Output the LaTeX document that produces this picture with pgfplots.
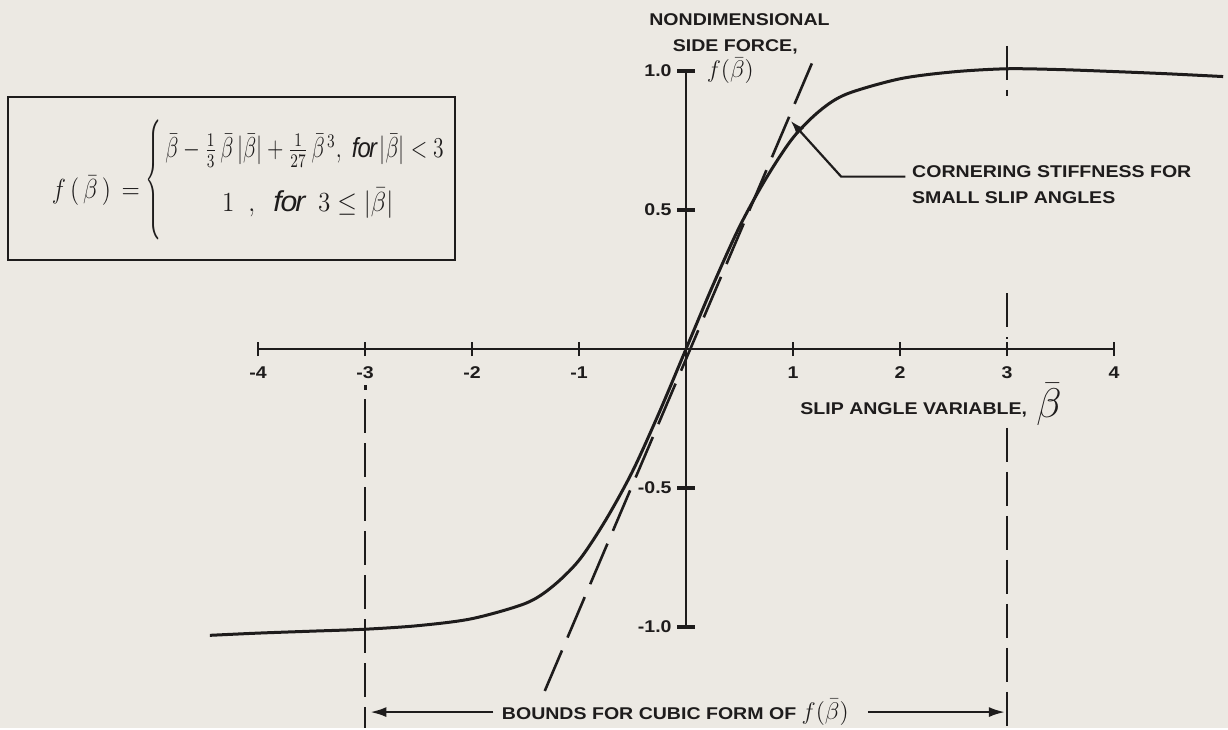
\documentclass[border=0pt]{standalone}
\usepackage{pgfplots}
\pgfplotsset{compat=1.18}
\usetikzlibrary{arrows.meta}
\usepackage{fontspec}
\setmainfont{Liberation Sans}[FakeStretch=1.15]
\definecolor{paper}{RGB}{236,233,227}
\definecolor{ink}{RGB}{30,28,28}
\tikzset{
  lab/.style={font=\bfseries\fontsize{8.5}{10}\selectfont, text=ink, inner sep=0pt},
  hand/.style={font=\fontsize{11}{14}\selectfont, text=ink, inner sep=0pt},
}

% slip-angle curve f(beta), as drawn
\pgfplotstableread{
b      f
-4.45  -1.030
-4.00  -1.022
-3.50  -1.015
-3.00  -1.008
-2.50  -0.995
-2.00  -0.970
-1.50  -0.915
-1.25  -0.855
-1.00  -0.760
-0.75  -0.615
-0.50  -0.440
-0.25  -0.228
 0.00   0.000
 0.25   0.228
 0.50   0.440
 0.75   0.615
 1.00   0.760
 1.25   0.857
 1.50   0.917
 2.00   0.972
 2.50   0.997
 3.00   1.008
 3.50   1.005
 4.00   0.998
 4.50   0.990
 5.02   0.980
}\sidecurve

\begin{document}
\begin{tikzpicture}
\begin{axis}[
  scale only axis, width=614pt, height=364pt,
  xmin=-6.411, xmax=5.065, ymin=-1.3633, ymax=1.2554,
  hide axis, clip=false,
]
% paper
\fill[paper] (rel axis cs:0,0) rectangle (rel axis cs:1,1);

% axes
\draw[ink, line width=1.4pt] (axis cs:-4,0) -- (axis cs:4,0);
\draw[ink, line width=1.4pt] (axis cs:0,-1) -- (axis cs:0,1);
\pgfplotsinvokeforeach{-4,-3,-2,-1,1,2,3,4}{
  \draw[ink, line width=1.4pt] (axis cs:#1,-0.026) -- (axis cs:#1,0.026);
  \node[lab, anchor=north] at (axis cs:#1,-0.061) {#1};
}
\pgfplotsinvokeforeach{-1,-0.5,0.5,1}{
  \draw[ink, line width=1.8pt] (axis cs:-0.084,#1) -- (axis cs:0.084,#1);
}
\node[lab, anchor=east] at (axis cs:-0.131,1) {1.0};
\node[lab, anchor=east] at (axis cs:-0.131,0.5) {0.5};
\node[lab, anchor=east] at (axis cs:-0.131,-0.5) {-0.5};
\node[lab, anchor=east] at (axis cs:-0.131,-1) {-1.0};

% axis titles
\node[lab] at (axis cs:0.50,1.183) {NONDIMENSIONAL};
\node[lab] at (axis cs:0.46,1.086) {SIDE FORCE,};
\node[hand, anchor=west, font=\fontsize{12}{14}\selectfont] at (axis cs:0.19,1.0) {$f(\bar\beta)$};
\node[lab, anchor=west] at (axis cs:1.065,-0.219) {SLIP ANGLE VARIABLE,};
\node[hand, anchor=west, font=\fontsize{22}{24}\selectfont] at (axis cs:3.27,-0.20) {$\bar\beta$};

% bounds of the cubic form
\addplot[ink, line width=1.3pt, dash pattern=on 17pt off 5pt] coordinates {(3,1.09) (3,0.91)};
\addplot[ink, line width=1.3pt, dash pattern=on 17pt off 5pt] coordinates {(3,0.2) (3,0.037)};
\addplot[ink, line width=1.3pt, dash pattern=on 17pt off 5pt] coordinates {(3,-0.284) (3,-1.3633)};
\addplot[ink, line width=1.5pt] coordinates {(-3,-0.13) (-3,-0.148)};
\addplot[ink, line width=1.3pt, dash pattern=on 17pt off 5pt] coordinates {(-3,-0.18) (-3,-1.3633)};

% tangent line: cornering stiffness
\addplot[ink, line width=1.3pt, dash pattern=on 22pt off 7pt] coordinates {(-1.32,-1.23) (1.19,1.04)};

% side-force curve
\addplot[ink, line width=1.5pt, smooth] table[x=b, y=f] {\sidecurve};

% annotations
\draw[ink, line width=1.1pt, -{Latex[length=7pt,width=5pt]}] (axis cs:2.05,0.62) -- (axis cs:1.45,0.62) -- (axis cs:0.98,0.82);
\node[lab, anchor=west] at (axis cs:2.11,0.637) {CORNERING STIFFNESS FOR};
\node[lab, anchor=west] at (axis cs:2.11,0.543) {SMALL SLIP ANGLES};

\node[lab] at (axis cs:-0.10,-1.306) {BOUNDS FOR CUBIC FORM OF {\normalfont\fontsize{13}{14}\selectfont$f(\bar\beta)$}};
\draw[ink, line width=1.1pt, -{Latex[length=8pt,width=5pt]}] (axis cs:-1.80,-1.306) -- (axis cs:-2.95,-1.306);
\draw[ink, line width=1.1pt, -{Latex[length=8pt,width=5pt]}] (axis cs:1.70,-1.306) -- (axis cs:2.98,-1.306);

% defining formula
\draw[ink, line width=1pt] (axis cs:-6.336,0.906) rectangle (axis cs:-2.159,0.320);
\node[hand, anchor=east, font=\fontsize{13}{14}\selectfont] at (axis cs:-5.10,0.57)
  {\scalebox{1}[1.15]{$f\,(\,\bar\beta\,)\,=$}};
\node[hand, font=\fontsize{12}{14}\selectfont] at (axis cs:-4.98,0.608)
  {\scalebox{1}[2.0]{$\Bigg\{$}};
\node[hand, anchor=west, font=\fontsize{11.5}{14}\selectfont] at (axis cs:-4.87,0.713)
  {\scalebox{0.9}[1.2]{$\bar\beta - \frac{1}{3}\,\bar\beta\,|\bar\beta| + \frac{1}{27}\,\bar\beta^{\,3},\ \mathit{for}\,|\bar\beta|<3$}};
\node[hand, anchor=west, font=\fontsize{12.5}{14}\selectfont] at (axis cs:-4.34,0.525)
  {\scalebox{1.05}[1.15]{$1\;\;,\;\;\mathit{for}\;\;3\leq|\bar\beta|$}};
\end{axis}
\end{tikzpicture}
\end{document}
